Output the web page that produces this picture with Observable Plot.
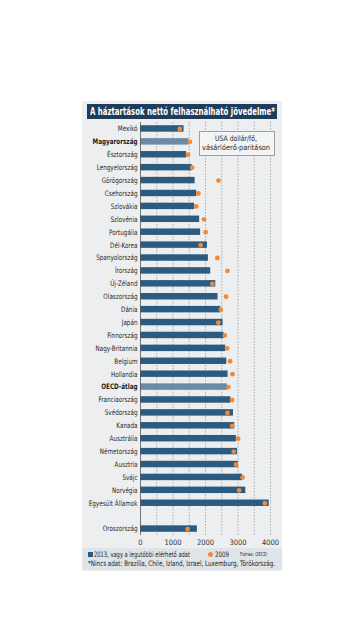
<!DOCTYPE html>
<html>
<head>
<meta charset="utf-8">
<script src="https://cdn.jsdelivr.net/npm/d3@7"></script>
<script src="https://cdn.jsdelivr.net/npm/@observablehq/plot@0.6"></script>
<style>
  html, body { margin: 0; padding: 0; background: #ffffff; }
  #page { position: relative; width: 360px; height: 640px; overflow: hidden;
    font-family: "Liberation Sans Narrow", "DejaVu Sans Condensed", "Roboto Condensed", "Liberation Sans", sans-serif; }
  #panel { position: absolute; left: 82px; top: 101px; width: 200px; height: 470px; background: #eceeef; }
  #titlebar { position: absolute; left: 87px; top: 104px; width: 190px; height: 15px; background: #1f3d58; }
  .fit { position: absolute; white-space: nowrap; transform-origin: 0 50%; }
  #title { left: 90px; top: 104px; color: #fff; font-weight: bold; font-size: 10.5px; line-height: 15px; }
  #chart { position: absolute; left: 78px; top: 120px; }
  #notebox { position: absolute; left: 199px; top: 131px; width: 76px; height: 25px; border: 1px solid #9a9fa3;
    background: #f3f4f4; box-sizing: border-box; }
  .note { font-size: 7.5px; line-height: 9px; color: #2a2a2a; }
  #legendband { position: absolute; left: 82px; top: 548px; width: 200px; height: 22px; background: #dfe4e8; }
  .sq { position: absolute; left: 88px; top: 552px; width: 5px; height: 5px; background: #2b5b80; }
  .ldot { position: absolute; left: 208px; top: 552px; width: 5px; height: 5px; border-radius: 50%; background: #f08a3a; }
  .leg { font-size: 7.5px; line-height: 9px; color: #1e1e1e; }
  .src { font-size: 5.5px; line-height: 9px; color: #222; }
</style>
</head>
<body>
<div id="page">
  <div id="panel"></div>
  <div id="titlebar"></div>
  <div id="title" class="fit" data-w="185">A háztartások nettó felhasználható jövedelme*</div>
  <div id="chart"></div>
  <div id="notebox"></div>
  <div class="fit note" style="left:215px; top:134px;" data-w="42">USA dollár/fő,</div>
  <div class="fit note" style="left:202px; top:143px;" data-w="68">vásárlóerő-paritáson</div>
  <div id="legendband"></div>
  <div class="sq"></div>
  <div class="fit leg" style="left:94px; top:550px;" data-w="96">2013, vagy a legutóbbi elérhető adat</div>
  <div class="ldot"></div>
  <div class="fit leg" style="left:215px; top:550px;" data-w="14">2009</div>
  <div class="fit src" style="left:240px; top:550px;" data-w="27">Forrás: OECD</div>
  <div class="fit leg" style="left:88px; top:559px;" data-w="187">*Nincs adat: Brazília, Chile, Izland, Izrael, Luxemburg, Törökország.</div>
</div>
<script>
const countries = ["Mexikó", "Magyarország", "Észtország", "Lengyelország", "Görögország", "Csehország",
  "Szlovákia", "Szlovénia", "Portugália", "Dél-Korea", "Spanyolország", "Írország", "Új-Zéland",
  "Olaszország", "Dánia", "Japán", "Finnország", "Nagy-Britannia", "Belgium", "Hollandia", "OECD-átlag",
  "Franciaország", "Svédország", "Kanada", "Ausztrália", "Németország", "Ausztria", "Svájc", "Norvégia",
  "Egyesült Államok", "Oroszország"];
const values2013 = [1340, 1490, 1420, 1590, 1680, 1730, 1665, 1820, 1850, 2060, 2090, 2160, 2315,
  2385, 2470, 2540, 2570, 2620, 2655, 2695, 2675, 2780, 2860, 2900, 2950, 2985, 3015, 3140, 3240,
  3960, 1750];
const values2009 = [1210, 1520, 1460, 1590, 2400, 1780, 1710, 1955, 2005, 1850, 2365, 2675, 2210,
  2635, 2470, 2395, 2595, 2665, 2755, 2830, 2705, 2820, 2675, 2820, 3005, 2870, 2940, 3140, 3035,
  3825, 1450];
const highlighted = ["Magyarország", "OECD-átlag"];
const spacer = " ";
const yOrder = [...countries.slice(0, 30), spacer, countries[30]];
const xTicks = [0, 1000, 2000, 3000, 4000];
const gridTicks = [500, 1000, 1500, 2000, 2500, 3000, 3500, 4000];

const rows = countries.map((c, i) => ({country: c, v2013: values2013[i], v2009: values2009[i]}));
const isHi = d => highlighted.includes(d.country);
const FONT = '"Liberation Sans Narrow", "DejaVu Sans Condensed", "Roboto Condensed", "Liberation Sans", sans-serif';

const chart = Plot.plot({
  width: 205,
  height: 429,
  marginLeft: 62,
  marginRight: 13,
  marginTop: 2,
  marginBottom: 14,
  style: {background: "transparent", fontFamily: FONT, fontSize: "7px", color: "#333", overflow: "visible"},
  x: {domain: [0, 4000], label: null},
  y: {domain: yOrder, paddingInner: 0.5, paddingOuter: 0.25, round: false, axis: null},
  marks: [
    Plot.ruleX(gridTicks, {stroke: "#8d9296", strokeWidth: 0.7, strokeDasharray: "1.5,1.5"}),
    Plot.barX(rows.filter(d => !isHi(d)), {y: "country", x: "v2013", fill: "#2b5b80"}),
    Plot.barX(rows.filter(isHi), {y: "country", x: "v2013", fill: "#6a8aa5"}),
    Plot.ruleX([0], {stroke: "#555", strokeWidth: 0.8}),
    Plot.dot(rows, {y: "country", x: "v2009", r: 2.4, fill: "#f08a3a", stroke: "none"}),
    Plot.text(rows.filter(d => !isHi(d)), {y: "country", text: "country", frameAnchor: "left", textAnchor: "end", dx: -3, fill: "#2a2a2a", fontSize: 7.5}),
    Plot.text(rows.filter(isHi), {y: "country", text: "country", frameAnchor: "left", textAnchor: "end", dx: -3, fill: "#1a1a1a", fontSize: 7.5, fontWeight: "bold"}),
    Plot.axisX(xTicks, {anchor: "bottom", tickSize: 0, tickPadding: 4, tickFormat: d => String(d), label: null, fill: "#333", fontSize: 7.5})
  ]
});
document.getElementById("chart").appendChild(chart);

// condense the category labels horizontally (narrow newspaper face)
chart.querySelectorAll('g[aria-label="text"] text').forEach(t => {
  const tr = t.getAttribute("transform") || "";
  t.setAttribute("transform", tr + " scale(0.84,1)");
});
// fit HTML text lines to the widths they take in the reference
document.querySelectorAll(".fit").forEach(el => {
  const target = +el.dataset.w;
  const w = el.getBoundingClientRect().width;
  if (w > 0) el.style.transform = `scaleX(${target / w})`;
});
</script>
</body>
</html>
